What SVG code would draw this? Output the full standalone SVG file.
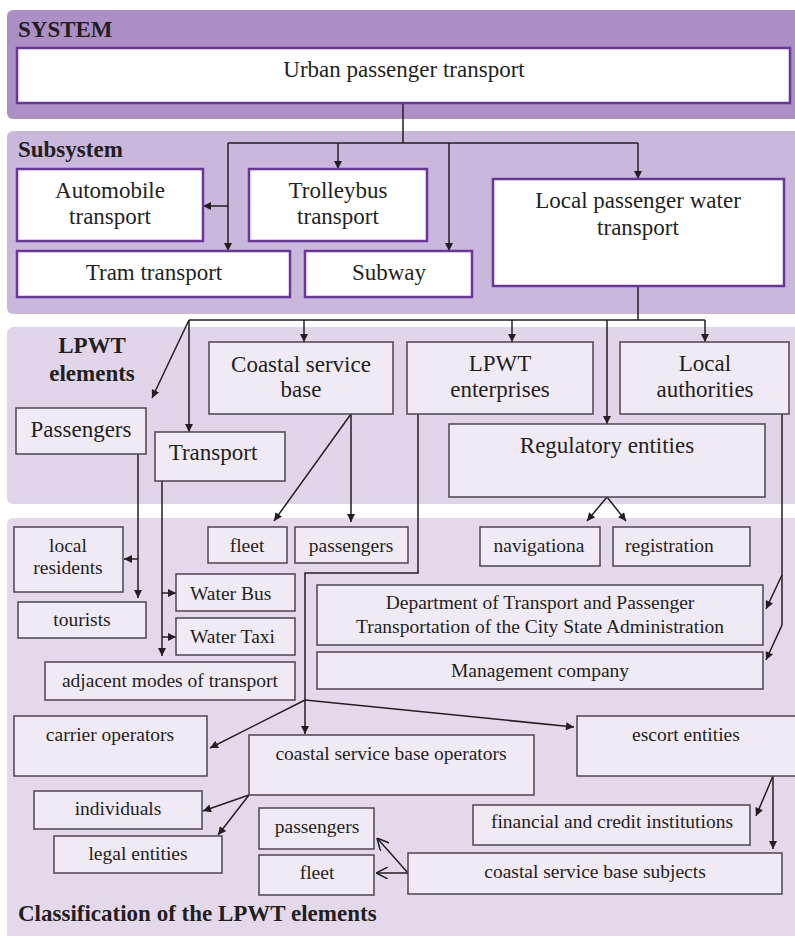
<svg xmlns="http://www.w3.org/2000/svg" width="795" height="936" viewBox="0 0 795 936">
<defs>
<marker id="ah" viewBox="0 0 10 10" refX="10" refY="5" markerWidth="9" markerHeight="8" markerUnits="userSpaceOnUse" orient="auto"><path d="M0,0 L10,5 L0,10 z" fill="#231f20"/></marker>
<marker id="ao" viewBox="0 0 10 10" refX="10" refY="5" markerWidth="12" markerHeight="12" markerUnits="userSpaceOnUse" orient="auto"><path d="M0,0 L10,5 L0,10" fill="none" stroke="#231f20" stroke-width="1.3"/></marker>
</defs>
<style>
text{font-family:"Liberation Serif","Times New Roman",serif;fill:#231f20}
.h{font-weight:bold;font-size:23px}
.t{font-size:23px;text-anchor:middle}
.s{font-size:19.5px;text-anchor:middle}
.st{text-anchor:start}
.pb{fill:#fff;stroke:#6b35a0;stroke-width:2.5}
.lb{fill:#f0eaf5;stroke:#4a4550;stroke-width:1.5}
.c{fill:none;stroke:#231f20;stroke-width:1.5}
.a{marker-end:url(#ah)}
.o{marker-end:url(#ao)}
</style>
<rect width="795" height="936" fill="#fff"/>
<g id="panels">
<rect x="7" y="10" width="800" height="109" rx="6" fill="#ac8fc4"/>
<rect x="7" y="131" width="800" height="183" rx="6" fill="#c9b8db"/>
<rect x="7" y="327" width="800" height="177" rx="6" fill="#e1d6e9"/>
<rect x="7" y="518" width="800" height="430" rx="6" fill="#e3d9eb"/>
<text class="h" x="18" y="37">SYSTEM</text>
<text class="h" x="18" y="157">Subsystem</text>
<text class="h" x="92" y="353" text-anchor="middle">LPWT</text>
<text class="h" x="92" y="381" text-anchor="middle">elements</text>
<text class="h" x="18" y="921">Classification of the LPWT elements</text>
</g>
<g id="connectors">
<path class="c" d="M403,103 V143 M228,143 H638"/>
<path class="c a" d="M338,143 V169"/>
<path class="c a" d="M228,143 V251"/>
<path class="c a" d="M228,206 H203"/>
<path class="c a" d="M449,143 V251"/>
<path class="c a" d="M638,143 V179"/>
<path class="c" d="M638,286 V320 M189,320 H705"/>
<path class="c a" d="M189,320 L152,398"/>
<path class="c a" d="M189,320 V432"/>
<path class="c a" d="M304,320 V342"/>
<path class="c a" d="M512,320 V342"/>
<path class="c a" d="M607,320 V424"/>
<path class="c a" d="M705,320 V342"/>
<path class="c a" d="M138,454 V598"/>
<path class="c a" d="M138,559 H124"/>
<path class="c a" d="M162,481 V656"/>
<path class="c a" d="M162,593 H176"/>
<path class="c a" d="M162,637 H176"/>
<path class="c a" d="M351,414 L274,521"/>
<path class="c a" d="M351,414 V522"/>
<path class="c" d="M418,414 V573 H305 V700"/>
<path class="c a" d="M305,700 L210,748"/>
<path class="c a" d="M305,700 V734"/>
<path class="c a" d="M305,700 L574,727"/>
<path class="c a" d="M607,497 L587,521"/>
<path class="c a" d="M607,497 L626,521"/>
<path class="c a" d="M782,414 V625 L766,660"/>
<path class="c a" d="M782,575 L766,609"/>
<path class="c a" d="M249,795 L203,811"/>
<path class="c a" d="M249,795 L218,835"/>
<path class="c o" d="M408,873 L377,838"/>
<path class="c o" d="M408,873 H376"/>
<path class="c a" d="M773,776 L756,816"/>
<path class="c a" d="M773,776 V849"/>
</g>
<g id="n-urban"><rect class="pb" x="17" y="48" width="773" height="55"/><text class="t" x="404" y="77">Urban passenger transport</text></g>
<g id="n-auto"><rect class="pb" x="17" y="169" width="186" height="72"/><text class="t" x="110" y="198">Automobile</text><text class="t" x="110" y="224">transport</text></g>
<g id="n-trolley"><rect class="pb" x="249" y="169" width="178" height="72"/><text class="t" x="338" y="198">Trolleybus</text><text class="t" x="338" y="224">transport</text></g>
<g id="n-tram"><rect class="pb" x="17" y="251" width="273" height="46"/><text class="t" x="154" y="280">Tram transport</text></g>
<g id="n-subway"><rect class="pb" x="305" y="251" width="167" height="46"/><text class="t" x="389" y="280">Subway</text></g>
<g id="n-lpwt"><rect class="pb" x="493" y="179" width="291" height="107"/><text class="t" x="638" y="208">Local passenger water</text><text class="t" x="638" y="235">transport</text></g>
<g id="n-passengers"><rect class="lb" x="16" y="408" width="130" height="46"/><text class="t" x="81" y="437">Passengers</text></g>
<g id="n-transport"><rect class="lb" x="155" y="432" width="130" height="49"/><text class="t" x="213" y="460">Transport</text></g>
<g id="n-coastal"><rect class="lb" x="209" y="342" width="184" height="72"/><text class="t" x="301" y="372">Coastal service</text><text class="t" x="301" y="397">base</text></g>
<g id="n-enterprises"><rect class="lb" x="407" y="342" width="186" height="72"/><text class="t" x="500" y="371">LPWT</text><text class="t" x="500" y="397">enterprises</text></g>
<g id="n-authorities"><rect class="lb" x="620" y="342" width="169" height="72"/><text class="t" x="705" y="371">Local</text><text class="t" x="705" y="397">authorities</text></g>
<g id="n-regulatory"><rect class="lb" x="449" y="424" width="316" height="73"/><text class="t" x="607" y="453">Regulatory entities</text></g>
<g id="n-residents"><rect class="lb" x="14" y="527" width="109" height="65"/><text class="s" x="68" y="552">local</text><text class="s" x="68" y="574">residents</text></g>
<g id="n-tourists"><rect class="lb" x="18" y="602" width="128" height="36"/><text class="s" x="82" y="626">tourists</text></g>
<g id="n-fleet1"><rect class="lb" x="208" y="527" width="79" height="36"/><text class="s" x="247" y="552">fleet</text></g>
<g id="n-pass1"><rect class="lb" x="295" y="527" width="113" height="36"/><text class="s" x="351" y="552">passengers</text></g>
<g id="n-waterbus"><rect class="lb" x="176" y="574" width="119" height="37"/><text class="s st" x="190" y="600">Water Bus</text></g>
<g id="n-watertaxi"><rect class="lb" x="176" y="618" width="119" height="37"/><text class="s st" x="190" y="643">Water Taxi</text></g>
<g id="n-adjacent"><rect class="lb" x="45" y="662" width="250" height="38"/><text class="s" x="170" y="687">adjacent modes of transport</text></g>
<g id="n-navig"><rect class="lb" x="480" y="527" width="120" height="39"/><text class="s" x="539" y="552">navigationa</text></g>
<g id="n-registr"><rect class="lb" x="613" y="527" width="137" height="39"/><text class="s st" x="625" y="552">registration</text></g>
<g id="n-dept"><rect class="lb" x="317" y="585" width="446" height="60"/><text class="s" x="540" y="609">Department of Transport and Passenger</text><text class="s" x="540" y="633">Transportation of the City State Administration</text></g>
<g id="n-mgmt"><rect class="lb" x="317" y="652" width="446" height="37"/><text class="s" x="540" y="677">Management company</text></g>
<g id="n-carrier"><rect class="lb" x="14" y="716" width="193" height="60"/><text class="s" x="110" y="741">carrier operators</text></g>
<g id="n-csbo"><rect class="lb" x="249" y="735" width="285" height="60"/><text class="s" x="391" y="760">coastal service base operators</text></g>
<g id="n-escort"><rect class="lb" x="577" y="716" width="225" height="60"/><text class="s" x="686" y="741">escort entities</text></g>
<g id="n-individuals"><rect class="lb" x="34" y="791" width="168" height="38"/><text class="s" x="118" y="815">individuals</text></g>
<g id="n-legal"><rect class="lb" x="54" y="836" width="168" height="37"/><text class="s" x="138" y="860">legal entities</text></g>
<g id="n-pass2"><rect class="lb" x="259" y="808" width="115" height="41"/><text class="s" x="317" y="833">passengers</text></g>
<g id="n-fleet2"><rect class="lb" x="259" y="855" width="115" height="40"/><text class="s" x="317" y="879">fleet</text></g>
<g id="n-financial"><rect class="lb" x="473" y="805" width="277" height="40"/><text class="s" x="612" y="828">financial and credit institutions</text></g>
<g id="n-subjects"><rect class="lb" x="408" y="853" width="374" height="41"/><text class="s" x="595" y="878">coastal service base subjects</text></g>
</svg>
